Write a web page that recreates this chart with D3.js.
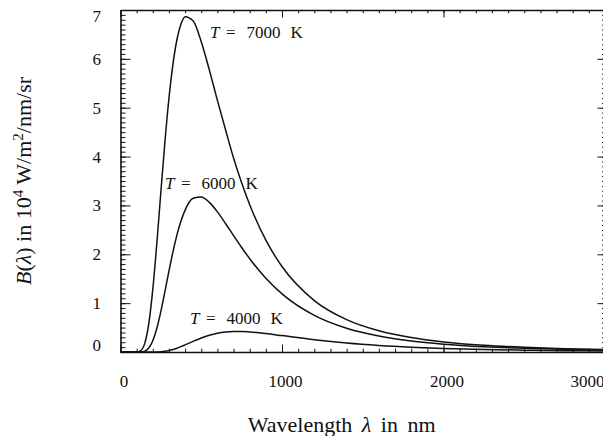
<!DOCTYPE html>
<html>
<head>
<meta charset="utf-8">
<script src="https://cdn.jsdelivr.net/npm/d3@7"></script>
<style>
  body { margin: 0; background: #fff; }
  svg { display: block; }
  svg text { font-family: "Liberation Serif", "DejaVu Serif", serif; }
</style>
</head>
<body>
<div class="chart"></div>
<script>
// wavelength samples (nm) and spectral radiance (10^4 W/m^2/nm/sr)
const wavelengths = [0, 100, 125, 150, 175, 200, 225, 250, 275, 300, 325, 350, 375, 400, 450, 500, 550, 600, 650, 700, 750, 800, 900, 1000, 1200, 1400, 1600, 1800, 2000, 2250, 2500, 2750, 3000]
const radiance7000 = [0, 0.0014, 0.028, 0.176, 0.575, 1.281, 2.227, 3.279, 4.30, 5.193, 5.898, 6.401, 6.717, 6.863, 6.773, 6.352, 5.774, 5.151, 4.553, 3.971, 3.463, 3.015, 2.288, 1.749, 1.053, 0.663, 0.435, 0.296, 0.207, 0.138, 0.096, 0.068, 0.050]
const radiance6000 = [0, 0.00005, 0.0018, 0.018, 0.081, 0.231, 0.486, 0.833, 1.237, 1.656, 2.053, 2.403, 2.687, 2.905, 3.146, 3.175, 3.062, 2.868, 2.631, 2.383, 2.139, 1.910, 1.510, 1.191, 0.751, 0.487, 0.327, 0.226, 0.161, 0.109, 0.076, 0.054, 0.040]
const radiance4000 = [0, 0, 0, 0, 0.0001, 0.0006, 0.0024, 0.0069, 0.0158, 0.0304, 0.0513, 0.0781, 0.1096, 0.1446, 0.218, 0.2865, 0.3423, 0.3826, 0.4072, 0.4181, 0.4182, 0.4099, 0.3776, 0.3356, 0.2515, 0.1837, 0.1341, 0.0988, 0.0738, 0.0523, 0.0379, 0.0281, 0.0212]
const temperatures = [7000, 6000, 4000]

const xTickValues = [0, 1000, 2000, 3000]
const yTickValues = [0, 1, 2, 3, 4, 5, 6, 7]

const width = 603
const height = 436
const plot = { left: 120.5, right: 605, top: 10, bottom: 352 }

const series = [radiance7000, radiance6000, radiance4000].map((values, i) => ({
  temp: temperatures[i],
  points: wavelengths.map((w, j) => ({ w, b: values[j] }))
}))

const xScale = d3.scaleLinear()
  .domain([0, 3000])
  .range([plot.left, plot.right])

const yScale = d3.scaleLinear()
  .domain([0, 7])
  .range([plot.bottom, plot.top])

const lineGenerator = d3.line()
  .x(d => xScale(d.w))
  .y(d => yScale(d.b))
  .curve(d3.curveMonotoneX)

const svg = d3.select(".chart")
  .append("svg")
    .attr("width", width)
    .attr("height", height)

const ink = "#111"
const serif = "'Liberation Serif', 'DejaVu Serif', serif"

const styleAxis = g => {
  g.attr("font-family", serif)
  g.selectAll(".tick line").attr("stroke", ink).attr("stroke-width", 1)
  g.select(".domain").attr("stroke", ink).attr("stroke-width", 1.6)
}

const xMinor = d3.range(0, 3001, 100)
const yMinor = d3.range(0, 7.001, 0.1)

// bottom axis, ticks pointing inwards
svg.append("g")
    .attr("transform", `translate(0,${plot.bottom})`)
    .call(d3.axisBottom(xScale).tickValues(xMinor).tickSize(-3.3).tickSizeOuter(0).tickFormat(""))
    .call(g => g.select(".domain").remove())
    .call(styleAxis)

svg.append("g")
    .attr("transform", `translate(0,${plot.bottom})`)
    .call(d3.axisBottom(xScale)
      .tickValues(xTickValues)
      .tickSize(-7.5)
      .tickSizeOuter(0)
      .tickPadding(22.5)
      .tickFormat(d3.format("d")))
    .call(styleAxis)
    .call(g => g.selectAll(".tick text")
      .attr("fill", ink)
      .attr("font-size", 17)
      .attr("dx", 3))
    .call(g => g.selectAll(".tick text").filter(d => d === 3000)
      .attr("text-anchor", "end")
      .attr("dx", 0)
      .attr("x", -1))

// top axis
svg.append("g")
    .attr("transform", `translate(0,${plot.top})`)
    .call(d3.axisBottom(xScale).tickValues(xMinor).tickSize(3.3).tickSizeOuter(0).tickFormat(""))
    .call(styleAxis)
svg.append("g")
    .attr("transform", `translate(0,${plot.top})`)
    .call(d3.axisBottom(xScale).tickValues(xTickValues).tickSize(7.5).tickSizeOuter(0).tickFormat(""))
    .call(g => g.select(".domain").remove())
    .call(styleAxis)

// left axis
svg.append("g")
    .attr("transform", `translate(${plot.left},0)`)
    .call(d3.axisLeft(yScale).tickValues(yMinor).tickSize(-5).tickSizeOuter(0).tickFormat(""))
    .call(g => g.select(".domain").remove())
    .call(styleAxis)

svg.append("g")
    .attr("transform", `translate(${plot.left},0)`)
    .call(d3.axisLeft(yScale)
      .tickValues(yTickValues)
      .tickSize(-10)
      .tickSizeOuter(0)
      .tickPadding(19.5)
      .tickFormat(d3.format("d")))
    .call(styleAxis)
    .call(g => g.selectAll(".tick text")
      .attr("fill", ink)
      .attr("font-size", 17)
      .attr("dy", d => d === 0 ? "-0.09em" : d === 7 ? "0.68em" : "0.32em"))

// right axis (its line sits just past the picture edge)
svg.append("g")
    .attr("transform", `translate(${plot.right},0)`)
    .call(d3.axisLeft(yScale).tickValues(yMinor).tickSize(3).tickSizeOuter(0).tickFormat(""))
    .call(styleAxis)
svg.append("g")
    .attr("transform", `translate(${plot.right},0)`)
    .call(d3.axisLeft(yScale).tickValues(yTickValues).tickSize(7.5).tickSizeOuter(0).tickFormat(""))
    .call(g => g.select(".domain").remove())
    .call(styleAxis)

// curves
svg.append("g")
  .selectAll("path")
  .data(series)
  .join("path")
    .attr("d", d => lineGenerator(d.points))
    .attr("fill", "none")
    .attr("stroke", ink)
    .attr("stroke-width", 1.5)

// temperature labels
const labelSpots = { 7000: [210, 37.5], 6000: [165, 188.5], 4000: [190, 324] }
temperatures.forEach(t => {
  const [x, y] = labelSpots[t]
  const label = svg.append("text")
      .attr("x", x)
      .attr("y", y)
      .attr("font-family", serif)
      .attr("font-size", 17)
      .attr("fill", ink)
  label.append("tspan").attr("font-style", "italic").text("T")
  label.append("tspan").attr("dx", 6.5).text("=")
  label.append("tspan").attr("dx", 11).text(t)
  label.append("tspan").attr("dx", 10).text("K")
})

// axis titles
const xTitle = svg.append("text")
    .attr("x", 341.7)
    .attr("y", 432)
    .attr("text-anchor", "middle")
    .attr("font-family", serif)
    .attr("font-size", 22)
    .attr("word-spacing", 4)
    .attr("fill", ink)
xTitle.append("tspan").text("Wavelength ")
xTitle.append("tspan").attr("font-style", "italic").text("λ")
xTitle.append("tspan").text(" in nm")

const yTitle = svg.append("text")
    .attr("transform", "translate(31,181) rotate(-90)")
    .attr("text-anchor", "middle")
    .attr("font-family", serif)
    .attr("font-size", 22)
    .attr("fill", ink)
yTitle.append("tspan").attr("font-style", "italic").text("B")
yTitle.append("tspan").text("(")
yTitle.append("tspan").attr("font-style", "italic").text("λ")
yTitle.append("tspan").text(") in 10")
yTitle.append("tspan").attr("font-size", 15).attr("dy", -8).text("4")
yTitle.append("tspan").attr("dy", 8).text(" W/m")
yTitle.append("tspan").attr("font-size", 15).attr("dy", -8).text("2")
yTitle.append("tspan").attr("dy", 8).text("/nm/sr")
</script>
</body>
</html>
